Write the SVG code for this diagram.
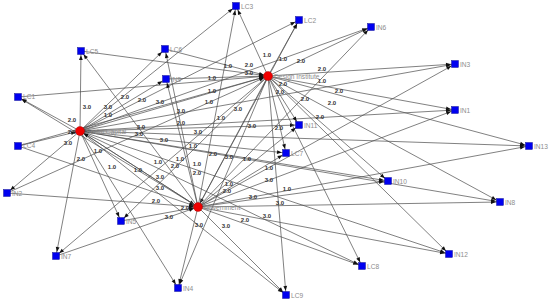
<svg xmlns="http://www.w3.org/2000/svg" width="550" height="302" viewBox="0 0 550 302">
<style>
.e{stroke:#4a4a4a;stroke-width:0.7;fill:none;marker-end:url(#arr)}
.el{font-family:"Liberation Sans",Arial,sans-serif;font-size:6px;font-weight:bold;fill:#333;text-anchor:middle}
.nl{font-family:"Liberation Sans",Arial,sans-serif;font-size:6.6px;fill:#8c8c8c}
.sq{fill:#0000f0;stroke:#000080;stroke-width:0.4}
.hub{fill:#f00000;stroke:#a00000;stroke-width:0.4}
</style>
<defs>
<marker id="arr" viewBox="-11 -4 12 8" refX="0" refY="0" markerWidth="12" markerHeight="8" markerUnits="userSpaceOnUse" orient="auto">
<path d="M-4.2,0 L-9,-1.9 L-9,1.9 Z" fill="#111"/>
</marker>
</defs>
<rect width="550" height="302" fill="#fff"/>
<g id="connectors">
<g id="social-capital-edges">
<line class="e" x1="80" y1="131" x2="236" y2="6"/>
<line class="e" x1="80" y1="131" x2="299" y2="20"/>
<line class="e" x1="80" y1="131" x2="371" y2="27"/>
<line class="e" x1="80" y1="131" x2="455" y2="64"/>
<line class="e" x1="80" y1="131" x2="455" y2="110"/>
<line class="e" x1="80" y1="131" x2="529" y2="146"/>
<line class="e" x1="80" y1="131" x2="81" y2="51"/>
<line class="e" x1="80" y1="131" x2="165" y2="49"/>
<line class="e" x1="80" y1="131" x2="166" y2="79"/>
<line class="e" x1="80" y1="131" x2="18" y2="97"/>
<line class="e" x1="18" y1="146" x2="80" y2="131"/>
<line class="e" x1="80" y1="131" x2="7" y2="193"/>
<line class="e" x1="80" y1="131" x2="56" y2="256"/>
<line class="e" x1="80" y1="131" x2="121" y2="221"/>
<line class="e" x1="80" y1="131" x2="178" y2="288"/>
<line class="e" x1="80" y1="131" x2="286" y2="295"/>
<line class="e" x1="80" y1="131" x2="362" y2="266"/>
<line class="e" x1="80" y1="131" x2="449" y2="254"/>
<line class="e" x1="80" y1="131" x2="500" y2="202"/>
<line class="e" x1="80" y1="131" x2="388" y2="181"/>
<line class="e" x1="80" y1="131" x2="286" y2="153"/>
<line class="e" x1="80" y1="131" x2="299" y2="125"/>
<line class="e" x1="80" y1="131" x2="268" y2="76"/>
<line class="e" x1="80" y1="131" x2="198" y2="207"/>
</g>
<g id="design-institute-edges">
<line class="e" x1="268" y1="76" x2="236" y2="6"/>
<line class="e" x1="268" y1="76" x2="299" y2="20"/>
<line class="e" x1="268" y1="76" x2="371" y2="27"/>
<line class="e" x1="268" y1="76" x2="455" y2="64"/>
<line class="e" x1="268" y1="76" x2="455" y2="110"/>
<line class="e" x1="268" y1="76" x2="529" y2="146"/>
<line class="e" x1="81" y1="51" x2="268" y2="76"/>
<line class="e" x1="165" y1="49" x2="268" y2="76"/>
<line class="e" x1="166" y1="79" x2="268" y2="76"/>
<line class="e" x1="18" y1="97" x2="268" y2="76"/>
<line class="e" x1="18" y1="146" x2="268" y2="76"/>
<line class="e" x1="7" y1="193" x2="268" y2="76"/>
<line class="e" x1="268" y1="76" x2="56" y2="256"/>
<line class="e" x1="268" y1="76" x2="121" y2="221"/>
<line class="e" x1="268" y1="76" x2="178" y2="288"/>
<line class="e" x1="268" y1="76" x2="286" y2="295"/>
<line class="e" x1="268" y1="76" x2="362" y2="266"/>
<line class="e" x1="268" y1="76" x2="449" y2="254"/>
<line class="e" x1="268" y1="76" x2="500" y2="202"/>
<line class="e" x1="268" y1="76" x2="388" y2="181"/>
<line class="e" x1="268" y1="76" x2="286" y2="153"/>
<line class="e" x1="268" y1="76" x2="299" y2="125"/>
<line class="e" x1="268" y1="76" x2="198" y2="207"/>
</g>
<g id="government-edges">
<line class="e" x1="198" y1="207" x2="236" y2="6"/>
<line class="e" x1="198" y1="207" x2="299" y2="20"/>
<line class="e" x1="198" y1="207" x2="371" y2="27"/>
<line class="e" x1="198" y1="207" x2="455" y2="64"/>
<line class="e" x1="198" y1="207" x2="455" y2="110"/>
<line class="e" x1="198" y1="207" x2="529" y2="146"/>
<line class="e" x1="198" y1="207" x2="81" y2="51"/>
<line class="e" x1="198" y1="207" x2="165" y2="49"/>
<line class="e" x1="198" y1="207" x2="166" y2="79"/>
<line class="e" x1="198" y1="207" x2="18" y2="97"/>
<line class="e" x1="18" y1="146" x2="198" y2="207"/>
<line class="e" x1="7" y1="193" x2="198" y2="207"/>
<line class="e" x1="56" y1="256" x2="198" y2="207"/>
<line class="e" x1="121" y1="221" x2="198" y2="207"/>
<line class="e" x1="198" y1="207" x2="178" y2="288"/>
<line class="e" x1="198" y1="207" x2="286" y2="295"/>
<line class="e" x1="198" y1="207" x2="362" y2="266"/>
<line class="e" x1="198" y1="207" x2="449" y2="254"/>
<line class="e" x1="198" y1="207" x2="500" y2="202"/>
<line class="e" x1="198" y1="207" x2="388" y2="181"/>
<line class="e" x1="198" y1="207" x2="286" y2="153"/>
<line class="e" x1="198" y1="207" x2="299" y2="125"/>
<line class="e" x1="198" y1="207" x2="80" y2="131"/>
</g>
<g id="edge-labels">
<text class="el" x="267" y="57">1.0</text>
<text class="el" x="283" y="61">1.0</text>
<text class="el" x="301" y="63">2.0</text>
<text class="el" x="322" y="71">2.0</text>
<text class="el" x="322" y="83">1.0</text>
<text class="el" x="228" y="68">1.0</text>
<text class="el" x="249" y="67">2.0</text>
<text class="el" x="249" y="75">3.0</text>
<text class="el" x="212" y="80">1.0</text>
<text class="el" x="212" y="93">1.0</text>
<text class="el" x="209" y="104">1.0</text>
<text class="el" x="238" y="111">3.0</text>
<text class="el" x="221" y="120">1.0</text>
<text class="el" x="283" y="86">2.0</text>
<text class="el" x="280" y="94">2.0</text>
<text class="el" x="305" y="101">2.0</text>
<text class="el" x="339" y="93">2.0</text>
<text class="el" x="332" y="105">2.0</text>
<text class="el" x="320" y="119">2.0</text>
<text class="el" x="279" y="130">2.0</text>
<text class="el" x="252" y="128">3.0</text>
<text class="el" x="87" y="109">3.0</text>
<text class="el" x="108" y="109">3.0</text>
<text class="el" x="108" y="117">1.0</text>
<text class="el" x="125" y="99">2.0</text>
<text class="el" x="142" y="102">2.0</text>
<text class="el" x="160" y="104">3.0</text>
<text class="el" x="72" y="122">2.0</text>
<text class="el" x="72" y="134">2.0</text>
<text class="el" x="68" y="145">3.0</text>
<text class="el" x="141" y="129">3.0</text>
<text class="el" x="139" y="136">3.0</text>
<text class="el" x="181" y="113">3.0</text>
<text class="el" x="181" y="125">2.0</text>
<text class="el" x="198" y="134">3.0</text>
<text class="el" x="164" y="142">3.0</text>
<text class="el" x="193" y="148">1.0</text>
<text class="el" x="213" y="156">2.0</text>
<text class="el" x="229" y="159">3.0</text>
<text class="el" x="247" y="161">1.0</text>
<text class="el" x="98" y="153">1.0</text>
<text class="el" x="81" y="161">2.0</text>
<text class="el" x="112" y="169">1.0</text>
<text class="el" x="158" y="164">1.0</text>
<text class="el" x="138" y="172">1.0</text>
<text class="el" x="180" y="161">1.0</text>
<text class="el" x="175" y="168">2.0</text>
<text class="el" x="197" y="166">1.0</text>
<text class="el" x="197" y="175">2.0</text>
<text class="el" x="160" y="179">3.0</text>
<text class="el" x="160" y="190">3.0</text>
<text class="el" x="156" y="203">2.0</text>
<text class="el" x="185" y="210">2.0</text>
<text class="el" x="169" y="219">3.0</text>
<text class="el" x="199" y="227">3.0</text>
<text class="el" x="226" y="228">3.0</text>
<text class="el" x="245" y="222">2.0</text>
<text class="el" x="267" y="218">3.0</text>
<text class="el" x="227" y="193">2.0</text>
<text class="el" x="229" y="186">1.0</text>
<text class="el" x="253" y="199">3.0</text>
<text class="el" x="269" y="182">3.0</text>
<text class="el" x="269" y="170">1.0</text>
<text class="el" x="287" y="191">1.0</text>
<text class="el" x="280" y="205">3.0</text>
</g>
</g>
<g id="nodes">
<g id="LC3"><rect class="sq" x="232.5" y="2.5" width="7" height="7"/><text class="nl" x="241" y="8.5">LC3</text></g>
<g id="LC2"><rect class="sq" x="295.5" y="16.5" width="7" height="7"/><text class="nl" x="304" y="22.5">LC2</text></g>
<g id="IN6"><rect class="sq" x="367.5" y="23.5" width="7" height="7"/><text class="nl" x="376" y="29.5">IN6</text></g>
<g id="IN3"><rect class="sq" x="451.5" y="60.5" width="7" height="7"/><text class="nl" x="460" y="66.5">IN3</text></g>
<g id="IN1"><rect class="sq" x="451.5" y="106.5" width="7" height="7"/><text class="nl" x="460" y="112.5">IN1</text></g>
<g id="IN13"><rect class="sq" x="525.5" y="142.5" width="7" height="7"/><text class="nl" x="534" y="148.5">IN13</text></g>
<g id="LC5"><rect class="sq" x="77.5" y="47.5" width="7" height="7"/><text class="nl" x="86" y="53.5">LC5</text></g>
<g id="LC6"><rect class="sq" x="161.5" y="45.5" width="7" height="7"/><text class="nl" x="170" y="51.5">LC6</text></g>
<g id="IN9"><rect class="sq" x="162.5" y="75.5" width="7" height="7"/><text class="nl" x="171" y="81.5">IN9</text></g>
<g id="LC1"><rect class="sq" x="14.5" y="93.5" width="7" height="7"/><text class="nl" x="23" y="99">LC1</text></g>
<g id="LC4"><rect class="sq" x="14.5" y="142.5" width="7" height="7"/><text class="nl" x="23" y="148">LC4</text></g>
<g id="IN2"><rect class="sq" x="3.5" y="189.5" width="7" height="7"/><text class="nl" x="12" y="195.5">IN2</text></g>
<g id="IN7"><rect class="sq" x="52.5" y="252.5" width="7" height="7"/><text class="nl" x="61" y="258.5">IN7</text></g>
<g id="IN5"><rect class="sq" x="117.5" y="217.5" width="7" height="7"/><text class="nl" x="126" y="223.5">IN5</text></g>
<g id="IN4"><rect class="sq" x="174.5" y="284.5" width="7" height="7"/><text class="nl" x="183" y="290.5">IN4</text></g>
<g id="LC9"><rect class="sq" x="282.5" y="291.5" width="7" height="7"/><text class="nl" x="291" y="297.5">LC9</text></g>
<g id="LC8"><rect class="sq" x="358.5" y="262.5" width="7" height="7"/><text class="nl" x="367" y="268.5">LC8</text></g>
<g id="IN12"><rect class="sq" x="445.5" y="250.5" width="7" height="7"/><text class="nl" x="454" y="256.5">IN12</text></g>
<g id="IN8"><rect class="sq" x="496.5" y="198.5" width="7" height="7"/><text class="nl" x="505" y="204.5">IN8</text></g>
<g id="IN10"><rect class="sq" x="384.5" y="177.5" width="7" height="7"/><text class="nl" x="393" y="183.5">IN10</text></g>
<g id="LC7"><rect class="sq" x="282.5" y="149.5" width="7" height="7"/><text class="nl" x="291" y="155.5">LC7</text></g>
<g id="IN11"><rect class="sq" x="295.5" y="121.5" width="7" height="7"/><text class="nl" x="304" y="127.5">IN11</text></g>
<g id="SocialCapital"><circle class="hub" cx="80" cy="131" r="4.5"/><text class="nl" x="86" y="133.5">Social Capital</text></g>
<g id="DesignInstitute"><circle class="hub" cx="268" cy="76" r="4.5"/><text class="nl" x="274" y="78.5">Design Institute</text></g>
<g id="Government"><circle class="hub" cx="198" cy="207" r="4.5"/><text class="nl" x="204" y="209.5">Government</text></g>
</g>
</svg>
